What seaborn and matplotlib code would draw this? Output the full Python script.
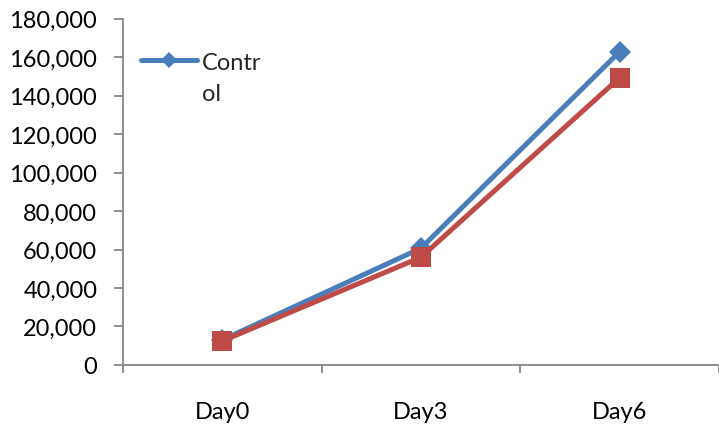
import matplotlib
matplotlib.use("Agg")
import matplotlib.pyplot as plt
import seaborn as sns
import pandas as pd
from matplotlib.ticker import FuncFormatter, FixedLocator

# Data
days = ["Day0", "Day3", "Day6"]
control = [13000, 60700, 162900]
treated = [12450, 56000, 149400]
series_names = ["Control", "Treated"]

df = pd.DataFrame({
    "day": days * 2,
    "cells": control + treated,
    "group": [series_names[0]] * 3 + [series_names[1]] * 3,
})

sns.set_theme(style="white")
plt.rcParams["font.family"] = ["Lato", "DejaVu Sans"]

blue = "#4A7EBB"
red = "#BE4B48"
fs = 17

fig = plt.figure(figsize=(7.19, 4.31), dpi=100)
ax = fig.add_axes([0.171, 0.151, 0.829, 0.803])

sns.lineplot(
    data=df, x="day", y="cells", hue="group", style="group",
    hue_order=series_names, style_order=series_names,
    palette={series_names[0]: blue, series_names[1]: red},
    markers={series_names[0]: "D", series_names[1]: "s"},
    dashes=False, linewidth=3.6, ax=ax, legend=False,
    markeredgewidth=0,
)
for line, ms in zip(ax.lines, [11, 14.5]):
    line.set_markersize(ms)

ax.set_xlim(-0.5, 2.5)
ax.set_ylim(0, 180000)
ax.set_yticks(range(0, 180001, 20000))
ax.yaxis.set_major_formatter(FuncFormatter(lambda v, p: f"{int(v):,}"))
ax.set_xlabel("")
ax.set_ylabel("")

# category boundaries carry the tick marks
ax.xaxis.set_minor_locator(FixedLocator([-0.5, 0.5, 1.5, 2.5]))
ax.tick_params(axis="x", which="major", length=0, pad=26, labelsize=fs, colors="black")
ax.tick_params(axis="x", which="minor", length=6, width=1.3, color="#868686", direction="out", bottom=True)
ax.tick_params(axis="y", length=6.5, width=1.3, color="#868686", direction="out", left=True,
               pad=12, labelsize=fs, labelcolor="black")

for side in ["top", "right"]:
    ax.spines[side].set_visible(False)
for side in ["left", "bottom"]:
    ax.spines[side].set_color("#868686")
    ax.spines[side].set_linewidth(1.3)

handle = ax.lines[0]
leg = ax.legend([handle], ["Contr\nol"], loc="upper left", bbox_to_anchor=(0.03, 0.905),
                frameon=False, fontsize=fs, handlelength=2.4, handletextpad=0.2,
                borderpad=0, borderaxespad=0)
for t in leg.get_texts():
    t.set_linespacing(1.6)
for lh in leg.get_lines():
    lh.set_markersize(8)
# keep the legend key level with the first line of the wrapped label
for column in leg._legend_handle_box.get_children():
    for item in column.get_children():
        item.align = "top"

fig.savefig("out.png", dpi=100)
